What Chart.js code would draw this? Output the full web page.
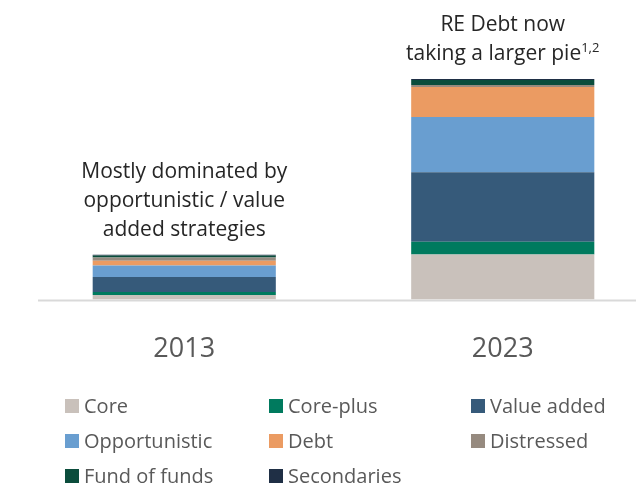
<!DOCTYPE html>
<html>
<head>
<meta charset="utf-8">
<script src="https://cdn.jsdelivr.net/npm/chart.js@4/dist/chart.umd.min.js"></script>
<style>
  html, body { margin: 0; padding: 0; background: #fff; overflow: hidden; width: 636px; height: 485px; }
  .wrap { position: relative; width: 680px; height: 407px; }
  .legend {
    position: absolute; left: 65px; top: 388px;
    display: grid; grid-template-columns: 204px 202px auto; grid-auto-rows: 35px;
    font-family: "Open Sans", sans-serif; font-size: 20px; color: #595959;
  }
  .legend div { display: flex; align-items: center; }
  .legend span.box { width: 14px; height: 14px; margin-right: 5px; flex: none; }
</style>
</head>
<body>
<div class="wrap"><canvas id="chart"></canvas></div>
<div class="legend" id="legend"></div>
<script>
const years = ["2013", "2023"];

// stacked strategy volumes, bottom to top
const core          = [4.5, 45];
const corePlus      = [3, 12.6];
const valueAdded    = [15, 69.5];
const opportunistic = [11.5, 55];
const debt          = [4.7, 30];
const distressed    = [3.3, 2];
const fundOfFunds   = [2, 5];
const secondaries   = [0.8, 1];

const notes = [
    { lines: ["Mostly dominated by", "opportunistic / value", "added strategies"], sup: "" },
    { lines: ["RE Debt now", "taking a larger pie"], sup: "1,2" }
];

const series = [
    { label: "Core",          data: core,          color: "#c9c1bb" },
    { label: "Core-plus",     data: corePlus,      color: "#007a5e" },
    { label: "Value added",   data: valueAdded,    color: "#365a7a" },
    { label: "Opportunistic", data: opportunistic, color: "#699ed0" },
    { label: "Debt",          data: debt,          color: "#eb9b62" },
    { label: "Distressed",    data: distressed,    color: "#968a7f" },
    { label: "Fund of funds", data: fundOfFunds,   color: "#0b4d3c" },
    { label: "Secondaries",   data: secondaries,   color: "#1f2f45" }
];

const totals = years.map((_, i) => series.reduce((s, d) => s + d.data[i], 0));

/* baseline under the bars */
const baseline = {
    id: "baseline",
    beforeDatasetsDraw(chart) {
        const { ctx } = chart;
        const y = chart.scales.y.getPixelForValue(0);
        ctx.save();
        ctx.strokeStyle = "#d9d9d9";
        ctx.lineWidth = 2;
        ctx.beginPath();
        ctx.moveTo(38, y + 1);
        ctx.lineTo(chart.width, y + 1);
        ctx.stroke();
        ctx.restore();
    }
};

/* captions above each stack */
const captions = {
    id: "captions",
    afterDatasetsDraw(chart) {
        const { ctx } = chart;
        ctx.save();
        ctx.fillStyle = "#262626";
        ctx.textBaseline = "alphabetic";
        notes.forEach((n, i) => {
            const x = chart.scales.x.getPixelForValue(i);
            const top = chart.scales.y.getPixelForValue(totals[i]);
            n.lines.forEach((line, k) => {
                const y = top - 19 - (n.lines.length - 1 - k) * 29;
                ctx.font = '21px "Open Sans"';
                const last = k === n.lines.length - 1 && n.sup;
                if (last) {
                    const w = ctx.measureText(line).width;
                    ctx.font = '13px "Open Sans"';
                    const ws = ctx.measureText(n.sup).width;
                    const x0 = x - (w + ws) / 2;
                    ctx.textAlign = "left";
                    ctx.fillText(n.sup, x0 + w, y - 8);
                    ctx.font = '21px "Open Sans"';
                    ctx.fillText(line, x0, y);
                } else {
                    ctx.textAlign = "center";
                    ctx.fillText(line, x, y);
                }
            });
        });
        ctx.restore();
    }
};

new Chart(document.getElementById("chart"), {
    type: "bar",
    data: {
        labels: years,
        datasets: series.map(s => ({
            label: s.label,
            data: s.data,
            backgroundColor: s.color,
            borderWidth: 0,
            categoryPercentage: 1,
            barPercentage: 0.575
        }))
    },
    options: {
        responsive: true,
        maintainAspectRatio: false,
        animation: false,
        layout: { padding: { top: 59, left: 25, right: 18, bottom: 7 } },
        plugins: { legend: { display: false }, tooltip: { enabled: false } },
        scales: {
            x: {
                stacked: true,
                grid: { display: false, drawTicks: false },
                border: { display: false },
                ticks: { color: "#595959", font: { family: "Open Sans", size: 27 }, padding: 34 }
            },
            y: { stacked: true, display: false, min: 0, max: 240 }
        }
    },
    plugins: [baseline, captions]
});

/* legend */
const legend = document.getElementById("legend");
series.forEach(s => {
    const item = document.createElement("div");
    item.innerHTML = `<span class="box" style="background:${s.color}"></span>${s.label}`;
    legend.appendChild(item);
});
</script>
</body>
</html>
